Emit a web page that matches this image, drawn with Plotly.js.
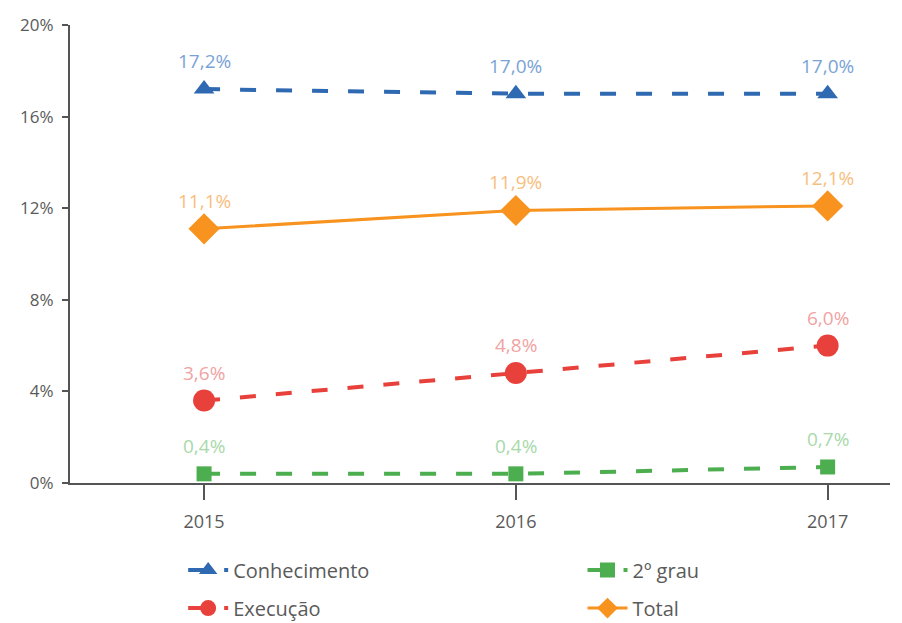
<!DOCTYPE html>
<html><head><meta charset="utf-8">
<script src="https://cdn.plot.ly/plotly-3.0.1.min.js"></script>
<style>html,body{margin:0;padding:0;background:#fff;}#chart{width:902px;height:623px;}</style>
</head><body><div id="chart"></div>
<script>
const years = ['2015', '2016', '2017'];
const conhecimento = [17.2, 17.0, 17.0];
const execucao = [3.6, 4.8, 6.0];
const segundoGrau = [0.4, 0.4, 0.7];
const total = [11.1, 11.9, 12.1];
const yTicks = [0, 4, 8, 12, 16, 20];

const fmt = v => v.toFixed(1).replace('.', ',') + '%';
const FONT = 'Open Sans, Roboto, sans-serif';

const series = [
  {name: 'Conhecimento', y: conhecimento, color: '#2f69b1', label: '#79a3d6', symbol: 'triangle-up', size: 18, dash: '16px,20px', width: 4, legend: 'legend'},
  {name: '2º grau', y: segundoGrau, color: '#4cae4f', label: '#a9d9aa', symbol: 'square', size: 15, dash: '16px,20px', width: 4, legend: 'legend3'},
  {name: 'Execução', y: execucao, color: '#e8403b', label: '#f0a3a3', symbol: 'circle', size: 22, dash: '16px,20px', width: 4, legend: 'legend2'},
  {name: 'Total', y: total, color: '#f7931e', label: '#f7be7d', symbol: 'diamond', size: 24, dash: 'solid', width: 3, legend: 'legend4'}
];

const traces = series.map(s => ({
  type: 'scatter', mode: 'lines+markers', name: s.name, x: years, y: s.y,
  line: {color: s.color, width: s.width, dash: s.dash},
  marker: {color: s.color, symbol: s.symbol, size: s.size},
  legend: s.legend, hoverinfo: 'skip'
}));

const annotations = [];
series.forEach(s => {
  s.y.forEach((v, i) => {
    annotations.push({x: i, y: v, xref: 'x', yref: 'y', text: fmt(v), showarrow: false,
      yshift: 28, font: {family: FONT, size: 19, color: s.label}});
  });
});

const legFont = {family: FONT, size: 20, color: '#5a5a5a'};
const legBase = {orientation: 'v', bgcolor: 'rgba(0,0,0,0)', font: legFont, yanchor: 'middle', xanchor: 'left', itemwidth: 40};

const layout = {
  width: 902, height: 623,
  margin: {l: 70, r: 12, t: 25, b: 140, autoexpand: false},
  paper_bgcolor: '#fff', plot_bgcolor: '#fff',
  font: {family: FONT, color: '#5a5a5a'},
  showlegend: true,
  xaxis: {type: 'category', range: [-0.43, 2.2], showgrid: false, zeroline: false, automargin: false,
    showline: true, linecolor: '#555', linewidth: 2, ticks: 'outside', ticklen: 15, tickwidth: 2, tickcolor: '#555',
    ticklabelstandoff: 6,
    tickfont: {family: FONT, size: 18, color: '#5a5a5a'}, fixedrange: true},
  yaxis: {range: [0, 20], tickvals: yTicks, ticktext: yTicks.map(v => v + '%'), showgrid: false, zeroline: false, automargin: false,
    showline: true, linecolor: '#555', linewidth: 2, ticks: 'outside', ticklen: 6, tickwidth: 2, tickcolor: '#555',
    ticklabelstandoff: 5,
    tickfont: {family: FONT, size: 17, color: '#5a5a5a'}, fixedrange: true},
  legend: Object.assign({}, legBase, {x: 0.138, y: -0.19}),
  legend2: Object.assign({}, legBase, {x: 0.138, y: -0.273}),
  legend3: Object.assign({}, legBase, {x: 0.625, y: -0.19}),
  legend4: Object.assign({}, legBase, {x: 0.625, y: -0.273}),
  annotations: annotations
};

Plotly.newPlot('chart', traces, layout, {displayModeBar: false, staticPlot: true});
</script></body></html>
